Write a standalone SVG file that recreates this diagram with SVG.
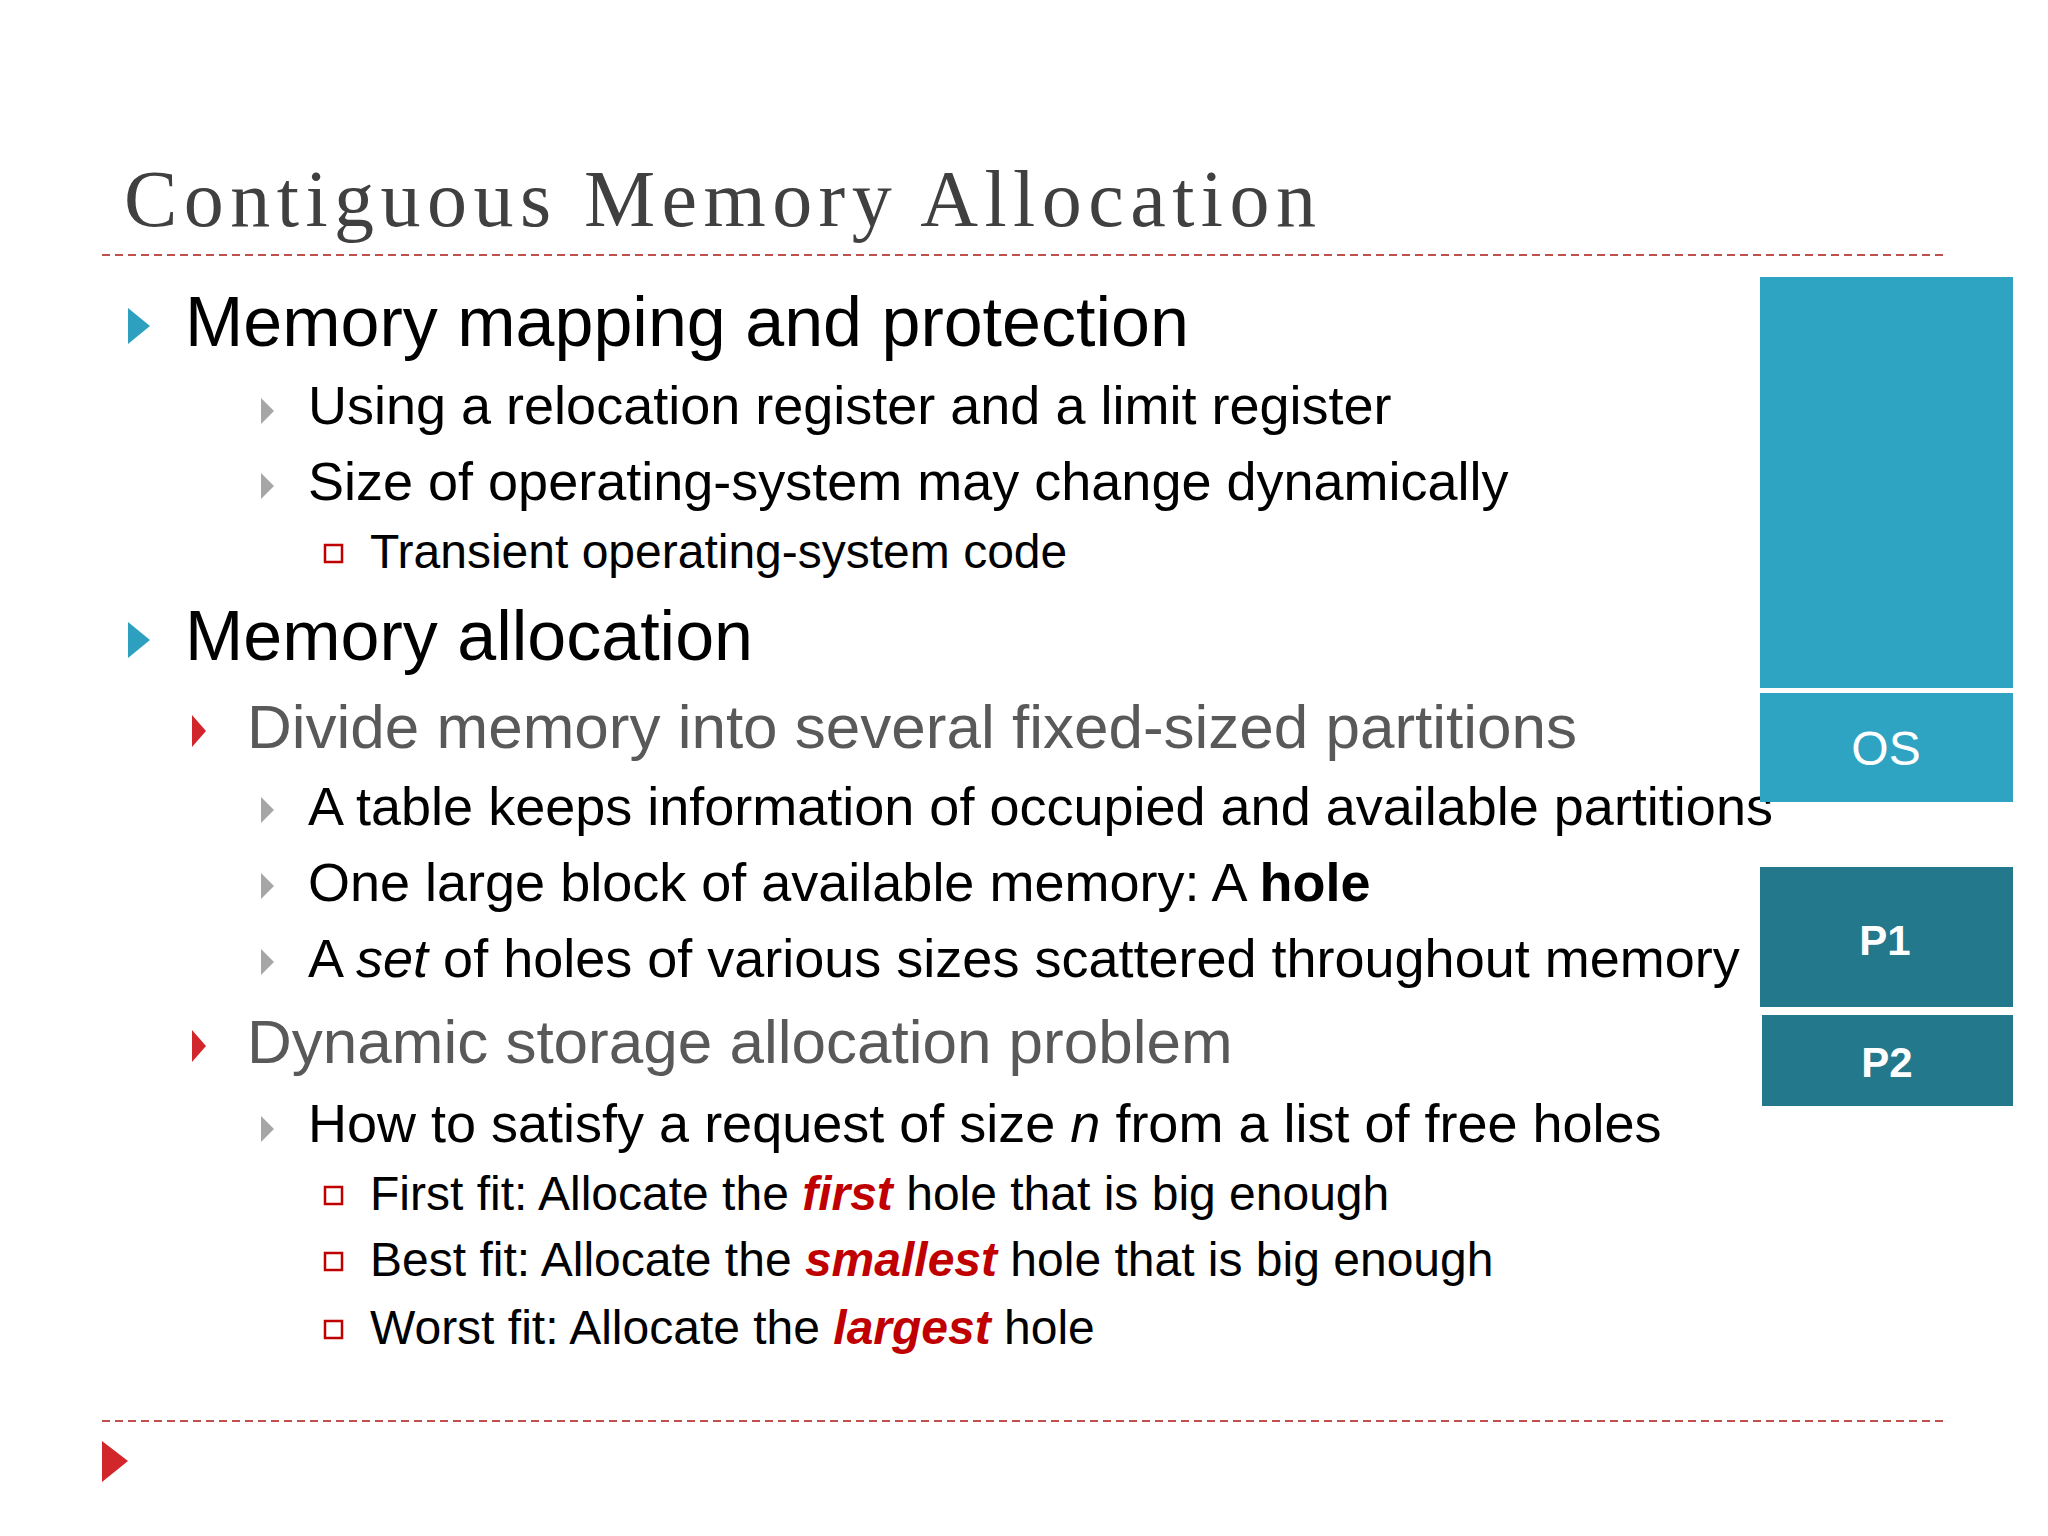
<svg xmlns="http://www.w3.org/2000/svg" width="2048" height="1536" viewBox="0 0 2048 1536">
<style>
.t{font-family:"Liberation Sans",Arial,sans-serif;fill:#000}
.l1{font-size:70px}
.l2{font-size:62px;fill:#595959}
.l3{font-size:54px}
.l4{font-size:48px}
.em{fill:#C00000;font-weight:bold;font-style:italic}
.dash{stroke:#C0504D;stroke-width:2;stroke-dasharray:8 5}
.lbl{font-family:"Liberation Sans",Arial,sans-serif;fill:#fff;text-anchor:middle}
</style>
<rect width="2048" height="1536" fill="#fff"/>
<text x="124" y="226" font-family="Liberation Serif,serif" font-size="80" fill="#404040" textLength="1192">Contiguous Memory Allocation</text>
<line class="dash" x1="102" y1="255" x2="1946" y2="255"/>
<line class="dash" x1="102" y1="1421" x2="1946" y2="1421"/>
<g id="bullets">
<polygon points="128,308 150,326 128,344" fill="#2CA0BE"/>
<polygon points="128,622 150,640 128,658" fill="#2CA0BE"/>
<polygon points="261,398 274,411 261,424" fill="#A6A6A6"/>
<polygon points="261,473 274,486 261,499" fill="#A6A6A6"/>
<polygon points="261,797 274,810 261,823" fill="#A6A6A6"/>
<polygon points="261,873 274,886 261,899" fill="#A6A6A6"/>
<polygon points="261,949 274,962 261,975" fill="#A6A6A6"/>
<polygon points="261,1116 274,1129 261,1142" fill="#A6A6A6"/>
<polygon points="192,715 206,731 192,747" fill="#D0262C"/>
<polygon points="192,1030 206,1046 192,1062" fill="#D0262C"/>
<rect x="325" y="545" width="17" height="17" fill="none" stroke="#C00000" stroke-width="2.5"/>
<rect x="325" y="1187" width="17" height="17" fill="none" stroke="#C00000" stroke-width="2.5"/>
<rect x="325" y="1253" width="17" height="17" fill="none" stroke="#C00000" stroke-width="2.5"/>
<rect x="325" y="1321" width="17" height="17" fill="none" stroke="#C00000" stroke-width="2.5"/>
<polygon points="102,1441 128,1461 102,1482" fill="#D0262C"/>
</g>
<g id="text">
<text class="t l1" x="185" y="346">Memory mapping and protection</text>
<text class="t l3" x="308" y="424">Using a relocation register and a limit register</text>
<text class="t l3" x="308" y="500">Size of operating-system may change dynamically</text>
<text class="t l4" x="370" y="568">Transient operating-system code</text>
<text class="t l1" x="185" y="660">Memory allocation</text>
<text class="t l2" x="247" y="748">Divide memory into several fixed-sized partitions</text>
<text class="t l3" x="308" y="825">A table keeps information of occupied and available partitions</text>
<text class="t l3" x="308" y="901">One large block of available memory: A <tspan font-weight="bold">hole</tspan></text>
<text class="t l3" x="308" y="977">A <tspan font-style="italic">set</tspan> of holes of various sizes scattered throughout memory</text>
<text class="t l2" x="247" y="1063">Dynamic storage allocation problem</text>
<text class="t l3" x="308" y="1142">How to satisfy a request of size <tspan font-style="italic">n</tspan> from a list of free holes</text>
<text class="t l4" x="370" y="1210">First fit:  Allocate the <tspan class="em">first</tspan> hole that is big enough</text>
<text class="t l4" x="370" y="1276">Best fit:  Allocate the <tspan class="em">smallest</tspan> hole that is big enough</text>
<text class="t l4" x="370" y="1344">Worst fit:  Allocate the <tspan class="em">largest</tspan> hole</text>
</g>
<g id="free"><rect x="1760" y="277" width="253" height="411" fill="#2EA3C2"/></g>
<g id="os"><rect x="1760" y="693" width="253" height="109" fill="#2EA3C2"/><text class="lbl" x="1886" y="765" font-size="48">OS</text></g>
<g id="p1"><rect x="1760" y="867" width="253" height="140" fill="#23788C"/><text class="lbl" x="1885" y="955" font-size="42" font-weight="bold">P1</text></g>
<g id="p2"><rect x="1762" y="1015" width="251" height="91" fill="#23788C"/><text class="lbl" x="1887" y="1077" font-size="42" font-weight="bold">P2</text></g>
</svg>
